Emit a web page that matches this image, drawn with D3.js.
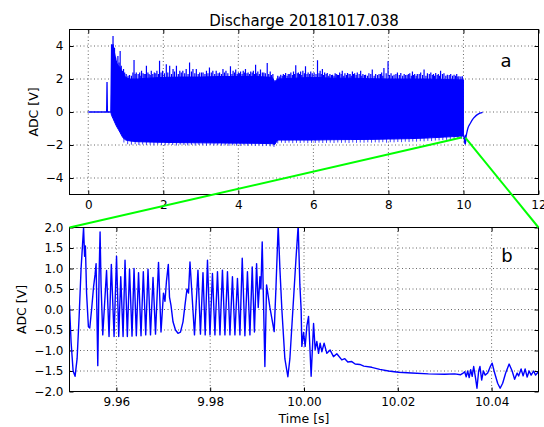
<!DOCTYPE html>
<html>
<head>
<meta charset="utf-8">
<script src="https://cdn.jsdelivr.net/npm/d3@7"></script>
<style>
  html, body { margin: 0; padding: 0; background: #fff; }
  text { font-family: "DejaVu Sans", sans-serif; fill: #000; }
</style>
</head>
<body>
<script>
// ---------------- DATA ----------------
const title = "Discharge 20181017.038";

// Panel a: quiet part before the discharge (t [s], ADC [V])
const preT = [0, 0.49, 0.50, 0.51, 0.60];
const preV = [0, 0, 1.82, 0, 0];

// Panel a: envelope of the dense oscillation (solid band)
const envT  = [0.60, 0.62, 0.66, 0.70, 0.75, 0.80, 0.85, 0.92, 1.00, 1.10, 1.30, 1.60, 2.00, 2.50, 3.00, 3.50, 4.00, 4.50, 4.90, 4.97, 5.05, 5.50, 6.00, 6.50, 7.00, 7.50, 8.00, 8.50, 9.00, 9.50, 9.90, 10.00];
const envHi = [0.0, 3.9, 4.1, 3.6, 3.0, 2.8, 2.7, 2.3, 2.1, 2.0, 2.0, 2.05, 2.1, 2.12, 2.12, 2.15, 2.15, 2.15, 2.1, 1.85, 2.0, 2.05, 2.1, 2.05, 2.05, 2.02, 2.0, 2.0, 2.0, 1.97, 1.95, 1.95];
const envLo = [0.0, -0.2, -0.4, -0.6, -0.85, -1.05, -1.25, -1.55, -1.7, -1.75, -1.8, -1.82, -1.84, -1.86, -1.87, -1.88, -1.89, -1.9, -1.92, -1.97, -1.7, -1.7, -1.7, -1.68, -1.67, -1.66, -1.64, -1.62, -1.58, -1.52, -1.47, -1.45];

// Panel a: individual upper peaks (tall ones)
const hiPeakT = [0.62,0.66,0.70,0.75,0.79,0.85,0.91,0.97,1.06,1.15,1.22,1.28,1.37,1.42,1.49,1.55,1.62,1.68,1.76,1.83,1.90,1.98,2.08,2.17,2.26,2.35,2.44,2.52,2.61,2.70,2.79,2.88,2.97,3.06,3.15,3.23,3.32,3.41,3.50,3.59,3.67,3.79,3.86,3.93,4.00,4.06,4.13,4.19,4.26,4.33,4.40,4.46,4.52,4.59,4.68,4.77,4.85,4.92,5.05,5.13,5.20,5.26,5.33,5.40,5.47,5.53,5.60,5.66,5.72,5.79,5.86,5.93,6.02,6.11,6.18,6.24,6.30,6.37,6.44,6.51,6.58,6.64,6.70,6.77,6.84,6.91,6.98,7.04,7.10,7.17,7.26,7.32,7.39,7.48,7.57,7.66,7.75,7.82,7.88,7.99,8.07,8.15,8.24,8.33,8.42,8.50,8.57,8.64,8.70,8.77,8.86,8.95,9.04,9.13,9.20,9.26,9.33,9.39,9.48,9.57,9.66,9.75,9.82,9.88,9.97];
const hiPeakV = [4.1,4.6,3.9,3.1,3.4,3.7,2.5,2.4,2.2,2.2,3.15,2.4,2.4,2.5,2.3,2.8,2.3,2.5,2.4,2.5,3.1,2.5,2.9,2.8,2.6,2.8,2.5,2.5,2.6,3.0,2.6,2.6,2.4,2.4,2.5,2.7,2.5,2.5,2.4,2.6,2.5,2.77,2.5,2.57,2.4,2.46,2.5,2.6,2.4,2.46,2.5,2.87,2.45,2.57,2.4,2.97,2.46,2.3,2.2,2.26,2.3,2.36,2.3,2.4,2.45,2.83,2.4,2.46,2.5,2.77,2.4,2.46,2.4,3.14,2.5,2.6,2.4,2.36,2.3,2.26,2.35,2.26,2.4,2.5,2.35,2.36,2.3,2.46,2.35,2.4,2.5,2.3,2.26,2.35,2.57,2.3,2.3,2.4,2.67,3.07,2.35,2.26,2.4,2.36,2.3,2.26,2.35,2.46,2.3,2.3,2.4,2.57,2.35,2.4,2.3,2.36,2.3,2.5,2.35,2.26,2.3,2.26,2.3,2.16,2.16];

// Panel a: smaller upper peaks in between, [t, v]
const hiPeak2 = [[0.68,3.5],[0.73,3.3],[0.77,2.9],[0.82,3.0],[0.88,2.8],[0.94,2.6],[1.01,2.3],[1.10,2.25],[1.19,2.4],[1.25,2.3],[1.33,2.3],[1.40,2.2],[1.46,2.35],[1.52,2.3],[1.59,2.4],[1.65,2.25],[1.72,2.3],[1.80,2.35],[1.87,2.3],[1.94,2.4],[2.03,2.35],[2.12,2.4],[2.22,2.3],[2.30,2.45],[2.40,2.3],[2.48,2.4],[2.57,2.35],[2.66,2.3],[2.75,2.45],[2.84,2.35],[2.93,2.3],[3.02,2.4],[3.11,2.3],[3.19,2.35],[3.28,2.4],[3.37,2.3],[3.46,2.35],[3.55,2.3],[3.63,2.4],[3.72,2.35],[3.83,2.3],[3.90,2.4],[3.97,2.3],[4.03,2.35],[4.10,2.3],[4.16,2.4],[4.23,2.35],[4.30,2.3],[4.37,2.4],[4.43,2.3],[4.49,2.35],[4.56,2.3],[4.64,2.4],[4.72,2.35],[4.81,2.3],[4.88,2.25],[5.09,2.15],[5.17,2.2],[5.23,2.25],[5.30,2.2],[5.37,2.3],[5.44,2.25],[5.50,2.3],[5.57,2.35],[5.63,2.3],[5.69,2.25],[5.76,2.35],[5.83,2.3],[5.90,2.3],[5.97,2.35],[6.07,2.3],[6.15,2.35],[6.21,2.3],[6.27,2.25],[6.34,2.3],[6.41,2.2],[6.48,2.25],[6.55,2.2],[6.61,2.3],[6.67,2.25],[6.74,2.3],[6.81,2.2],[6.88,2.25],[6.95,2.3],[7.01,2.2],[7.07,2.3],[7.14,2.25],[7.22,2.3],[7.29,2.2],[7.36,2.25],[7.44,2.2],[7.53,2.3],[7.62,2.2],[7.71,2.25],[7.79,2.3],[7.85,2.2],[7.94,2.35],[8.03,2.25],[8.11,2.2],[8.20,2.3],[8.29,2.25],[8.38,2.2],[8.46,2.25],[8.54,2.3],[8.61,2.2],[8.67,2.25],[8.74,2.2],[8.82,2.3],[8.91,2.25],[9.00,2.2],[9.09,2.3],[9.17,2.25],[9.23,2.2],[9.30,2.25],[9.36,2.2],[9.44,2.3],[9.53,2.2],[9.62,2.25],[9.71,2.2],[9.79,2.2],[9.85,2.15],[9.93,2.15]];

// Panel a: individual lower troughs
const loPeakT = [0.95,1.05,1.15,1.25,1.35,1.45,1.55,1.65,1.75,1.85,1.95,2.05,2.15,2.25,2.35,2.45,2.55,2.65,2.75,2.85,2.95,3.05,3.15,3.25,3.35,3.45,3.55,3.65,3.75,3.85,3.95,4.05,4.15,4.25,4.35,4.45,4.55,4.65,4.75,4.85,4.95,5.05,5.15,5.25,5.35,5.45,5.55,5.65,5.75,5.85,5.95,6.05,6.15,6.25,6.35,6.45,6.55,6.65,6.75,6.85,6.95,7.05,7.15,7.25,7.35,7.45,7.55,7.65,7.75,7.85,7.95,8.05,8.15,8.25,8.35,8.45,8.55,8.65,8.75,8.85,8.95,9.05,9.15,9.25,9.35,9.45,9.55,9.65,9.75,9.85,9.95];
const loPeakV = [-1.85,-1.95,-1.98,-1.95,-2.0,-1.97,-2.0,-1.98,-2.02,-1.97,-2.0,-2.02,-1.98,-2.0,-2.03,-1.98,-2.0,-2.02,-1.99,-2.03,-2.0,-2.02,-2.04,-2.0,-2.03,-2.01,-2.04,-2.02,-2.05,-2.02,-2.04,-2.06,-2.02,-2.05,-2.03,-2.06,-2.04,-2.07,-2.05,-2.08,-2.12,-1.9,-1.86,-1.88,-1.86,-1.89,-1.87,-1.88,-1.86,-1.89,-1.87,-1.88,-1.86,-1.88,-1.87,-1.86,-1.88,-1.85,-1.87,-1.86,-1.88,-1.85,-1.87,-1.85,-1.86,-1.84,-1.86,-1.84,-1.85,-1.83,-1.86,-1.83,-1.84,-1.82,-1.83,-1.8,-1.82,-1.79,-1.8,-1.77,-1.78,-1.75,-1.76,-1.73,-1.72,-1.7,-1.69,-1.67,-1.66,-1.64,-1.62];

// Panel a: relaxation after the discharge
const postT = [10.00, 10.02, 10.04, 10.045, 10.05, 10.07, 10.09, 10.12, 10.18, 10.24, 10.30, 10.37, 10.44, 10.51];
const postV = [-1.45, -1.6, -1.94, -1.4, -1.94, -1.5, -1.25, -0.97, -0.7, -0.46, -0.3, -0.16, -0.07, -0.02];

// Panel b: zoom on the end of the discharge, time offset [ms] from zoomT0
const zoomT0 = 9.95;
const zoomMs = [0.00,0.34,0.77,1.19,1.62,2.04,2.47,2.79,3.00,3.22,3.39,3.64,4.03,4.32,4.71,5.13,5.45,5.67,6.03,6.30,6.52,6.73,7.09,7.90,8.43,8.92,9.50,10.03,10.50,10.93,11.42,11.84,12.33,12.80,13.33,13.76,14.25,14.72,15.25,15.74,16.25,16.74,17.27,17.81,18.34,18.98,19.51,20.04,20.36,20.68,21.07,21.32,21.64,22.07,22.60,23.13,23.66,24.20,24.62,25.05,25.37,25.69,26.65,27.39,27.92,28.46,28.93,29.42,29.95,30.48,31.01,31.55,32.08,32.61,33.14,33.68,34.21,34.74,35.27,35.81,36.34,36.83,37.40,37.94,38.47,38.96,39.43,39.89,40.24,40.60,40.81,41.09,41.66,42.02,42.73,43.64,44.01,44.50,44.86,45.28,45.92,46.56,46.99,47.63,48.27,48.76,49.12,49.39,49.54,49.91,50.25,50.61,50.97,51.52,52.04,52.38,52.74,53.10,53.44,53.80,54.29,54.87,55.57,56.29,57.00,58.06,58.70,59.34,60.19,60.90,61.90,62.75,64.45,66.16,68.01,70.14,72.97,76.53,80.00,82.13,83.41,83.84,84.26,84.58,84.90,85.22,85.54,85.86,86.18,86.61,86.88,87.24,87.52,87.88,88.25,88.63,89.16,89.69,90.12,90.65,91.29,91.82,92.36,93.00,93.74,94.38,94.91,95.45,95.76,96.29,96.72,97.15,97.58,98.00,98.43,98.96,99.38,99.96];
const zoomV  = [0.1,-0.8,-1.5,-1.63,-1.2,-0.2,1.0,1.6,2.0,1.3,1.55,0.4,-0.42,-0.45,0.0,0.55,0.85,1.12,-1.37,0.8,1.89,0.6,-0.62,0.95,-0.66,1.1,-0.66,1.3,-0.66,0.8,-0.66,1.2,-0.66,0.98,-0.65,1.0,-0.64,0.9,-0.64,0.92,-0.62,0.98,-0.62,0.78,-0.6,1.15,-0.55,0.4,0.2,0.7,1.1,0.3,0.1,-0.3,-0.5,-0.58,-0.55,-0.3,0.1,0.5,0.4,1.16,-0.62,0.96,-0.6,0.9,-0.62,1.2,-0.62,0.88,-0.62,0.92,-0.62,0.96,-0.62,0.92,-0.62,0.8,-0.62,0.76,-0.62,1.25,-0.64,0.92,-0.62,1.04,-0.55,1.12,0.05,0.8,0.5,1.65,-1.39,0.6,0.05,-0.54,0.5,2.05,1.0,0.0,-1.2,-1.64,-1.2,0.0,1.2,2.05,0.6,0.0,-0.9,-0.56,-0.9,-0.4,-0.17,-1.63,-0.34,-0.98,-0.78,-1.07,-0.82,-1.03,-0.82,-1.07,-0.99,-1.15,-1.08,-1.23,-1.2,-1.28,-1.27,-1.33,-1.34,-1.38,-1.41,-1.46,-1.5,-1.53,-1.55,-1.57,-1.58,-1.57,-1.59,-1.56,-1.52,-1.64,-1.5,-1.66,-1.47,-1.63,-1.39,-1.7,-1.92,-1.5,-1.39,-1.72,-1.5,-1.6,-1.55,-1.4,-1.31,-1.55,-1.8,-1.92,-1.8,-1.55,-1.33,-1.5,-1.7,-1.55,-1.62,-1.45,-1.62,-1.45,-1.65,-1.5,-1.6,-1.5,-1.6,-1.52];

// axes / ticks
const topXDomain = [-0.5, 12], topYDomain = [-5, 5];
const topXTicks = [0, 2, 4, 6, 8, 10, 12];
const topYTicks = [-4, -2, 0, 2, 4];
const botXDomain = [9.95, 10.05], botYDomain = [-2, 2];
const botXTicks = [9.96, 9.98, 10.00, 10.02, 10.04];
const botYTicks = [-2.0, -1.5, -1.0, -0.5, 0.0, 0.5, 1.0, 1.5, 2.0];
const connectorV = -1.55; // level in panel a where the zoom connectors meet

// ---------------- DRAWING ----------------
const W = 544, H = 427;
const BLUE = "#0000ff", GREEN = "#00ff00";
const svg = d3.select("body").append("svg").attr("width", W).attr("height", H);

const L = 69.5, R = 538.5;
const topBox = {t: 29.5, b: 194.5};
const botBox = {t: 227.5, b: 391.5};

const xTop = d3.scaleLinear().domain(topXDomain).range([L, R]);
const yTop = d3.scaleLinear().domain(topYDomain).range([topBox.b, topBox.t]);
const xBot = d3.scaleLinear().domain(botXDomain).range([L, R]);
const yBot = d3.scaleLinear().domain(botYDomain).range([botBox.b, botBox.t]);

const defs = svg.append("defs");
defs.append("clipPath").attr("id", "clipTop").append("rect")
  .attr("x", L).attr("y", topBox.t).attr("width", R - L).attr("height", topBox.b - topBox.t);
defs.append("clipPath").attr("id", "clipBot").append("rect")
  .attr("x", L).attr("y", botBox.t).attr("width", R - L).attr("height", botBox.b - botBox.t);

function drawAxes(x, y, box, xTicks, yTicks, xFmt, yFmt) {
  const g = svg.append("g");
  g.append("g").selectAll("line").data(xTicks).join("line")
    .attr("x1", d => x(d)).attr("x2", d => x(d))
    .attr("y1", box.t).attr("y2", box.b)
    .attr("stroke", "#666").attr("stroke-width", 1).attr("stroke-dasharray", "1,2.5");
  g.append("g").selectAll("line").data(yTicks).join("line")
    .attr("x1", L).attr("x2", R)
    .attr("y1", d => y(d)).attr("y2", d => y(d))
    .attr("stroke", "#666").attr("stroke-width", 1).attr("stroke-dasharray", "1,2.5");
  const ax = [
    [d3.axisBottom(x).tickValues(xTicks).tickFormat(xFmt).tickSize(-4).tickPadding(6), `translate(0,${box.b})`],
    [d3.axisTop(x).tickValues(xTicks).tickFormat("").tickSize(-4), `translate(0,${box.t})`],
    [d3.axisLeft(y).tickValues(yTicks).tickFormat(yFmt).tickSize(-4).tickPadding(6), `translate(${L},0)`],
    [d3.axisRight(y).tickValues(yTicks).tickFormat("").tickSize(-4), `translate(${R},0)`]
  ];
  ax.forEach(([a, tr]) => {
    const ag = svg.append("g").attr("transform", tr).call(a);
    ag.select(".domain").remove();
    ag.selectAll("line").attr("stroke", "#000");
    ag.selectAll("text").attr("font-size", 12).attr("font-family", "DejaVu Sans").attr("fill", "#000");
  });
  return g;
}

drawAxes(xTop, yTop, topBox, topXTicks, topYTicks, d3.format("d"), d3.format("d"));
drawAxes(xBot, yBot, botBox, botXTicks, botYTicks, d3.format(".2f"), d3.format(".1f"));

// ---- panel a ----
const gTop = svg.append("g").attr("clip-path", "url(#clipTop)");
const envData = envT.map((t, i) => ({t, hi: envHi[i], lo: envLo[i]}));
gTop.append("path").datum(envData)
  .attr("d", d3.area().x(d => xTop(d.t)).y0(d => yTop(d.lo)).y1(d => yTop(d.hi)))
  .attr("fill", BLUE).attr("stroke", BLUE).attr("stroke-width", 1);

const spikes = (data, sw, op) => gTop.append("g").selectAll("line").data(data).join("line")
  .attr("x1", d => xTop(d[0])).attr("x2", d => xTop(d[0]))
  .attr("y1", d => yTop(d[1])).attr("y2", yTop(0))
  .attr("stroke", BLUE).attr("stroke-width", sw).attr("stroke-opacity", op);
spikes(hiPeak2, 1.2, 1);
spikes(hiPeakT.map((t, i) => [t, hiPeakV[i]]), 1.2, 1);
spikes(loPeakT.map((t, i) => [t, loPeakV[i]]), 1, 0.75);

gTop.append("path").datum(preT.map((t, i) => [t, preV[i]]))
  .attr("d", d3.line().x(d => xTop(d[0])).y(d => yTop(d[1])))
  .attr("fill", "none").attr("stroke", BLUE).attr("stroke-width", 1.3);
gTop.append("path").datum(postT.map((t, i) => [t, postV[i]]))
  .attr("d", d3.line().curve(d3.curveMonotoneX).x(d => xTop(d[0])).y(d => yTop(d[1])))
  .attr("fill", "none").attr("stroke", BLUE).attr("stroke-width", 1.3);

// ---- panel b ----
const gBot = svg.append("g").attr("clip-path", "url(#clipBot)");
gBot.append("path").datum(zoomMs.map((m, i) => [zoomT0 + m / 1000, zoomV[i]]))
  .attr("d", d3.line().x(d => xBot(d[0])).y(d => yBot(d[1])))
  .attr("fill", "none").attr("stroke", BLUE).attr("stroke-width", 1.4).attr("stroke-linejoin", "round");

// frames
[topBox, botBox].forEach(b => {
  svg.append("rect").attr("x", L).attr("y", b.t).attr("width", R - L).attr("height", b.b - b.t)
    .attr("fill", "none").attr("stroke", "#000").attr("stroke-width", 1);
});

// texts
svg.append("text").attr("x", (L + R) / 2).attr("y", 25.5).attr("text-anchor", "middle")
  .attr("font-size", 15).text(title);
svg.append("text").attr("transform", `translate(37.5,${(topBox.t + topBox.b) / 2}) rotate(-90)`)
  .attr("text-anchor", "middle").attr("font-size", 12.5).text("ADC [V]");
svg.append("text").attr("transform", `translate(25.5,${(botBox.t + botBox.b) / 2}) rotate(-90)`)
  .attr("text-anchor", "middle").attr("font-size", 12.5).text("ADC [V]");
svg.append("text").attr("x", (L + R) / 2).attr("y", 423).attr("text-anchor", "middle")
  .attr("font-size", 12.5).text("Time [s]");
svg.append("text").attr("x", 506).attr("y", 67).attr("text-anchor", "middle")
  .attr("font-size", 18).text("a");
svg.append("text").attr("x", 507).attr("y", 262).attr("text-anchor", "middle")
  .attr("font-size", 18).text("b");

// zoom connectors
const conn = botXDomain.map(t => ({x1: xTop(t), y1: yTop(connectorV), x2: xBot(t), y2: yBot(botYDomain[1])}));
svg.append("g").selectAll("line").data(conn).join("line")
  .attr("x1", d => d.x1).attr("y1", d => d.y1).attr("x2", d => d.x2).attr("y2", d => d.y2)
  .attr("stroke", GREEN).attr("stroke-width", 2);
</script>
</body>
</html>
